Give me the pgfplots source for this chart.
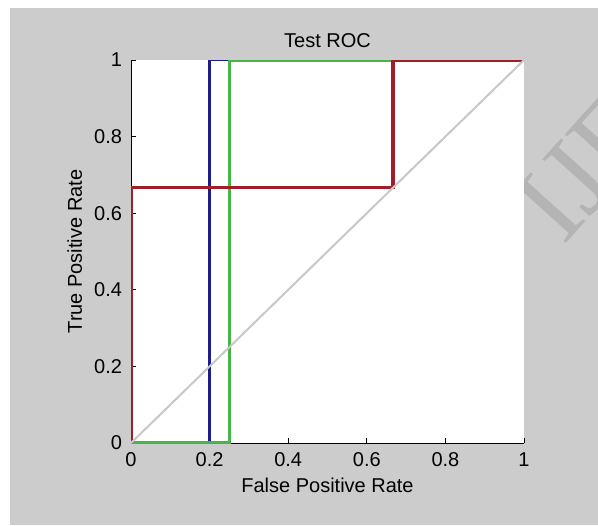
\documentclass[border=0pt]{standalone}
\usepackage{pgfplots}
\pgfplotsset{compat=1.18}
\usepackage{fontspec}
\setmainfont{Liberation Sans}
\newfontfamily\wmfont{Liberation Serif}

\definecolor{bggray}{RGB}{204,204,204}
\definecolor{wmgray}{RGB}{180,180,180}
\definecolor{rocred}{RGB}{160,30,40}
\definecolor{rocblue}{RGB}{28,28,140}
\definecolor{rocgreen}{RGB}{70,180,70}
\definecolor{diaggray}{RGB}{200,200,200}

\begin{document}
\begin{tikzpicture}[font=\fontsize{10}{12}\selectfont]
% figure background (1 px = 0.5 pt, axis box lower left at origin)
\useasboundingbox (-65.5pt,-41pt) rectangle (233.5pt,221.5pt);
\fill[white] (-65.5pt,-41pt) rectangle (233.5pt,221.5pt);
\fill[bggray] (-60.5pt,-41pt) rectangle (233.5pt,217.5pt);
% watermark, mostly hidden behind the axis box
\begin{scope}
\clip (-60.5pt,-41pt) rectangle (233.5pt,217.5pt);
\node[rotate=48, anchor=base west, text=wmgray, inner sep=0pt,
      font=\wmfont\fontsize{56}{56}\selectfont] at (216pt,98pt) {IJERT};
\end{scope}

\begin{axis}[
    at={(0,0)}, anchor=south west,
    scale only axis, width=196.5pt, height=191.5pt,
    xmin=0, xmax=1, ymin=0, ymax=1,
    axis x line*=bottom, axis y line*=left,
    axis line style={black, line width=0.5pt, -},
    axis background/.style={fill=white},
    tick align=inside, major tick length=2.5pt,
    tick style={black, line width=0.5pt},
    xtick={0,0.2,0.4,0.6,0.8,1}, ytick={0,0.2,0.4,0.6,0.8,1},
    xticklabels={0,0.2,0.4,0.6,0.8,1},
    yticklabels={0,0.2,0.4,0.6,0.8,1},
    xticklabel style={anchor=base, yshift=-11.5pt},
    yticklabel style={anchor=east, xshift=-1pt},
    title={Test ROC},
    title style={at={(axis description cs:0.5,1)}, anchor=base, yshift=0.5pt},
    xlabel={False Positive Rate},
    ylabel={True Positive Rate},
    every axis x label/.style={at={(axis description cs:0.5,0)}, anchor=base, yshift=-24.5pt},
    every axis y label/.style={at={(axis description cs:0,0.5)}, rotate=90, anchor=base, yshift=24.5pt},
]
% blue classifier
\addplot[rocblue, line width=1.3pt] coordinates {(0,0) (0.2,0) (0.2,1) (1,1)};
% green classifier
\addplot[rocgreen, line width=1.7pt] coordinates {(0,0) (0.25,0) (0.25,1) (1,1)};
% red classifier
\addplot[rocred, line width=1.6pt] coordinates {(0,0) (0,0.6667) (0.6667,0.6667) (0.6667,1) (1,1)};
% chance line
\addplot[diaggray, line width=1pt] coordinates {(0,0) (1,1)};
\end{axis}
\end{tikzpicture}
\end{document}
